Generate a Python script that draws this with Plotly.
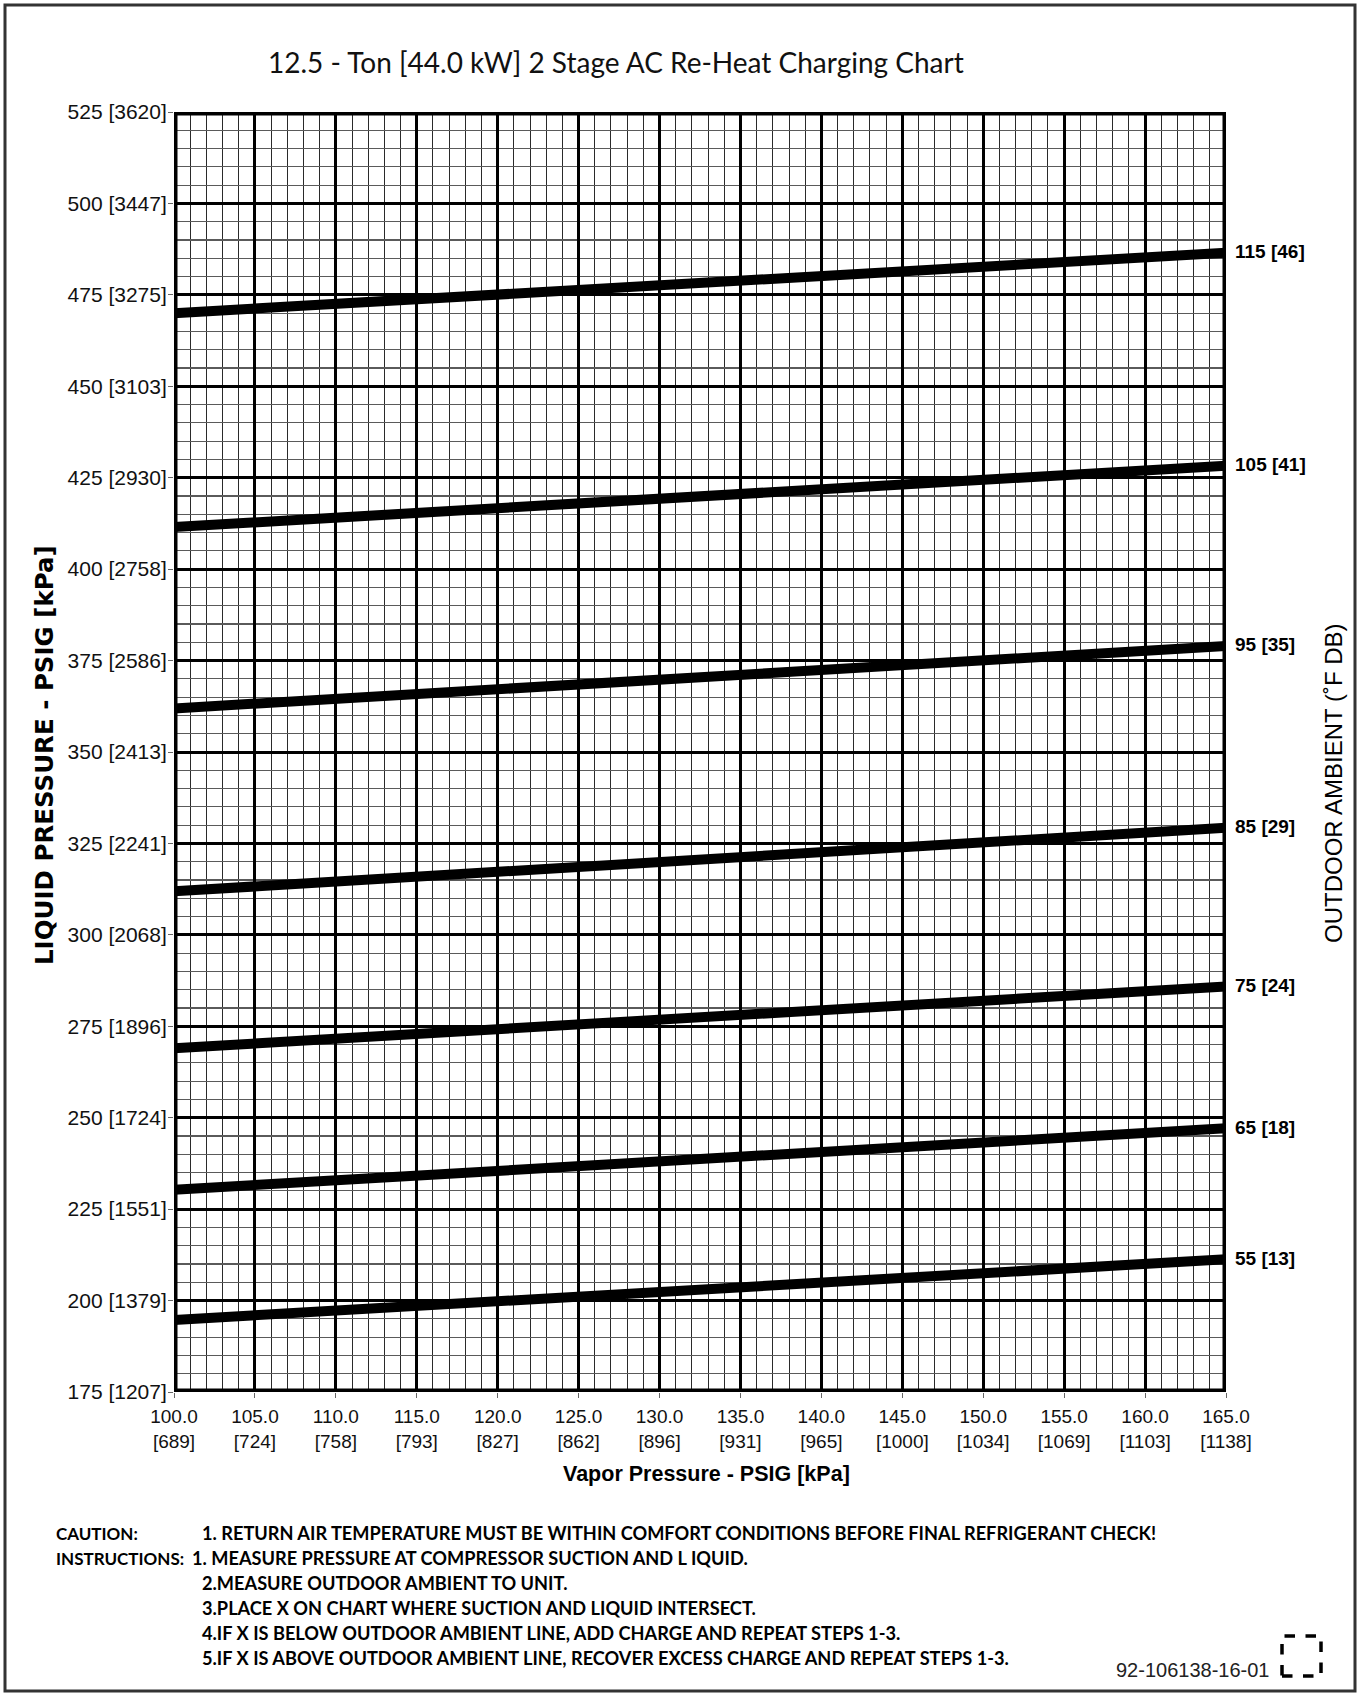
import plotly.graph_objects as go

# ---- data ----
vapor_psig = [100, 135, 165]
line_labels = ["115 [46]", "105 [41]", "95 [35]", "85 [29]", "75 [24]", "65 [18]", "55 [13]"]
liquid_115 = [470.0, 479.0, 486.5]
liquid_105 = [411.5, 420.4, 428.3]
liquid_95 = [361.9, 371.3, 379.0]
liquid_85 = [311.9, 321.0, 329.3]
liquid_75 = [269.0, 277.9, 285.9]
liquid_65 = [230.3, 239.2, 247.1]
liquid_55 = [194.7, 203.7, 211.3]
series = [liquid_115, liquid_105, liquid_95, liquid_85, liquid_75, liquid_65, liquid_55]

x_tickvals = [100, 105, 110, 115, 120, 125, 130, 135, 140, 145, 150, 155, 160, 165]
x_kpa = ["689", "724", "758", "793", "827", "862", "896", "931", "965", "1000", "1034", "1069", "1103", "1138"]
y_tickvals = [175, 200, 225, 250, 275, 300, 325, 350, 375, 400, 425, 450, 475, 500, 525]
y_kpa = ["1207", "1379", "1551", "1724", "1896", "2068", "2241", "2413", "2586", "2758", "2930", "3103", "3275", "3447", "3620"]

title = "12.5 - Ton [44.0 kW] 2 Stage AC Re-Heat Charging Chart"
notes = [
    ("CAUTION:", "1. RETURN AIR TEMPERATURE MUST BE WITHIN COMFORT CONDITIONS BEFORE FINAL REFRIGERANT CHECK!"),
    ("INSTRUCTIONS:", "1. MEASURE PRESSURE AT COMPRESSOR SUCTION AND L IQUID."),
    ("", "2.MEASURE OUTDOOR AMBIENT TO UNIT."),
    ("", "3.PLACE X ON CHART WHERE SUCTION AND LIQUID INTERSECT."),
    ("", "4.IF X IS BELOW OUTDOOR AMBIENT LINE, ADD CHARGE AND REPEAT STEPS 1-3."),
    ("", "5.IF X IS ABOVE OUTDOOR AMBIENT LINE, RECOVER EXCESS CHARGE AND REPEAT STEPS 1-3."),
]
doc_number = "92-106138-16-01"

# ---- layout geometry ----
W, H = 1359, 1696
L, R, T, B = 174, 1226, 112, 1392


def px(x):
    return (x - L) / (R - L)


def py(y):
    return (B - y) / (B - T)


fig = go.Figure()
for vals, lab in zip(series, line_labels):
    fig.add_trace(go.Scatter(x=vapor_psig, y=vals, mode="lines",
                             line=dict(color="black", width=10), showlegend=False,
                             hoverinfo="skip"))
    fig.add_annotation(x=vapor_psig[-1], y=vals[-1], text=f"<b>{lab}</b>", showarrow=False,
                       xanchor="left", yanchor="middle", xshift=7, yshift=1,
                       font=dict(family="Liberation Sans, Arial", size=19, color="black"))

fig.update_layout(
    width=W, height=H, autosize=False,
    margin=dict(l=L, r=W - R, t=T, b=H - B),
    paper_bgcolor="white", plot_bgcolor="white",
    font=dict(family="Liberation Sans, Arial", color="black"),
    hovermode=False,
)

fig.update_xaxes(
    range=[100, 165], tickmode="array", tickvals=x_tickvals,
    ticktext=[f"{v:.1f}<br>[{k}]" for v, k in zip(x_tickvals, x_kpa)],
    tickfont=dict(size=19, color="#111"),
    ticks="outside", ticklen=5, tickcolor="#666", tickwidth=1,
    ticklabelstandoff=2,
    showgrid=True, gridcolor="black", gridwidth=3,
    minor=dict(tickmode="linear", tick0=100, dtick=1, showgrid=True,
               gridcolor="#2a2a2a", gridwidth=1, ticks=""),
    zeroline=False, showline=False,
)
fig.update_yaxes(
    range=[175, 525], tickmode="array", tickvals=y_tickvals,
    ticktext=[f"{v} [{k}]" for v, k in zip(y_tickvals, y_kpa)],
    tickfont=dict(size=21, color="#111"),
    ticks="outside", ticklen=5, tickcolor="#666", tickwidth=1,
    ticklabelstandoff=-3,
    showgrid=True, gridcolor="black", gridwidth=3,
    minor=dict(tickmode="linear", tick0=175, dtick=5, showgrid=True,
               gridcolor="#5a5a5a", gridwidth=1.2, ticks=""),
    zeroline=False, showline=False,
)

# plot frame
fig.add_shape(type="rect", xref="x", yref="y", x0=100, x1=165, y0=175, y1=525,
              line=dict(color="black", width=7), layer="above")
# page border
fig.add_shape(type="rect", xref="paper", yref="paper", x0=px(5), x1=px(1355),
              y0=py(1691), y1=py(5), line=dict(color="#333", width=3), layer="above")
# dashed bracket box
fig.add_shape(type="rect", xref="paper", yref="paper", x0=px(1282), x1=px(1321),
              y0=py(1676), y1=py(1636), line=dict(color="black", width=3.5, dash="dash"))

# title
fig.add_annotation(xref="paper", yref="paper", x=px(616), y=py(62), text=title,
                   showarrow=False, xanchor="center", yanchor="middle",
                   font=dict(family="Lato", size=28, color="#111"))
# axis titles
fig.add_annotation(xref="paper", yref="paper", x=px(44), y=py(755),
                   text="<b>LIQUID PRESSURE - PSIG [kPa]</b>", textangle=-90,
                   showarrow=False, xanchor="center", yanchor="middle",
                   font=dict(family="DejaVu Sans", size=24.5, color="black"))
fig.add_annotation(xref="paper", yref="paper", x=px(706), y=py(1474),
                   text="<b>Vapor Pressure - PSIG [kPa]</b>",
                   showarrow=False, xanchor="center", yanchor="middle",
                   font=dict(family="Liberation Sans, Arial", size=21.5, color="black"))
fig.add_annotation(xref="paper", yref="paper", x=px(1333), y=py(783),
                   text="OUTDOOR AMBIENT (˚F DB)", textangle=-90,
                   showarrow=False, xanchor="center", yanchor="middle",
                   font=dict(family="Liberation Sans, Arial", size=24, color="black"))

# notes
note_y = [1533, 1558, 1583, 1608, 1633, 1658]
for (head, body), yy in zip(notes, note_y):
    if head:
        fig.add_annotation(xref="paper", yref="paper", x=px(54), y=py(yy),
                           text=f"<b>{head}</b>", showarrow=False,
                           xanchor="left", yanchor="middle",
                           font=dict(family="Lato", size=17, color="black"))
    bx = 190 if head == "INSTRUCTIONS:" else 200
    fig.add_annotation(xref="paper", yref="paper", x=px(bx), y=py(yy),
                       text=f"<b>{body}</b>", showarrow=False,
                       xanchor="left", yanchor="middle",
                       font=dict(family="Lato", size=18.2, color="black"))

fig.add_annotation(xref="paper", yref="paper", x=px(1271), y=py(1670),
                   text=doc_number, showarrow=False, xanchor="right", yanchor="middle",
                   font=dict(family="Liberation Sans, Arial", size=20, color="#222"))

fig.write_html("out.html", config={"displayModeBar": False, "staticPlot": True},
               post_script="document.body.style.margin='0';document.body.style.padding='0';")
